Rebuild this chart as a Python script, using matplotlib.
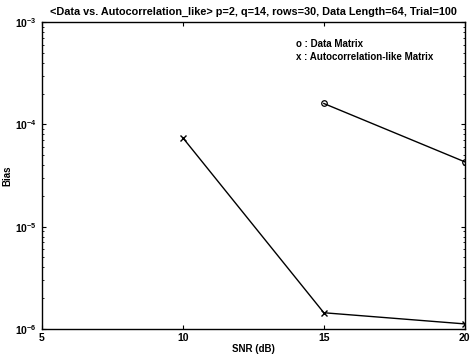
import matplotlib
matplotlib.use('Agg')
import matplotlib.pyplot as plt
from matplotlib.ticker import LogLocator, NullFormatter

snr_data = [15, 20]
bias_data = [1.6e-4, 4.3e-5]
snr_auto = [10, 15, 20]
bias_auto = [7.4e-5, 1.44e-6, 1.12e-6]
x_ticks = [5, 10, 15, 20]

plt.rcParams['font.family'] = ['Liberation Sans', 'DejaVu Sans']
plt.rcParams['font.weight'] = 'bold'

fig = plt.figure(figsize=(4.7, 3.56), dpi=100)
ax = fig.add_axes([0.089, 0.076, 0.9, 0.862])

ax.semilogy(snr_data, bias_data, '-', color='black', lw=1,
            marker='o', ms=4, mfc='none', mec='black', mew=0.9)
ax.semilogy(snr_auto, bias_auto, '-', color='black', lw=1,
            marker='x', ms=4, mew=1)

ax.set_xlim(5, 20)
ax.set_ylim(1e-6, 1e-3)
ax.set_xticks(x_ticks)
ax.yaxis.set_major_locator(LogLocator(base=10))
ax.yaxis.set_minor_locator(LogLocator(base=10, subs=range(2, 10)))
ax.yaxis.set_minor_formatter(NullFormatter())
ax.tick_params(direction='in', which='both', labelsize=7.5, top=True, right=True)
ax.tick_params(which='major', length=3)
ax.tick_params(which='minor', length=1.5)
ax.tick_params(axis='x', pad=3)
for s in ax.spines.values():
    s.set_linewidth(1)

ax.set_xlabel('SNR (dB)', fontsize=7, fontweight='bold', labelpad=1)
ax.set_ylabel('Bias', fontsize=7, fontweight='bold', labelpad=2)
ax.set_title('<Data vs. Autocorrelation_like> p=2, q=14, rows=30, Data Length=64, Trial=100',
             fontsize=7.8, fontweight='bold', pad=5)

ax.text(0.6, 0.928, 'o : Data Matrix', transform=ax.transAxes, fontsize=7,
        fontweight='bold', va='center')
ax.text(0.6, 0.886, 'x : Autocorrelation-like Matrix', transform=ax.transAxes, fontsize=7,
        fontweight='bold', va='center')

fig.savefig('out.png', dpi=100, facecolor='white')
